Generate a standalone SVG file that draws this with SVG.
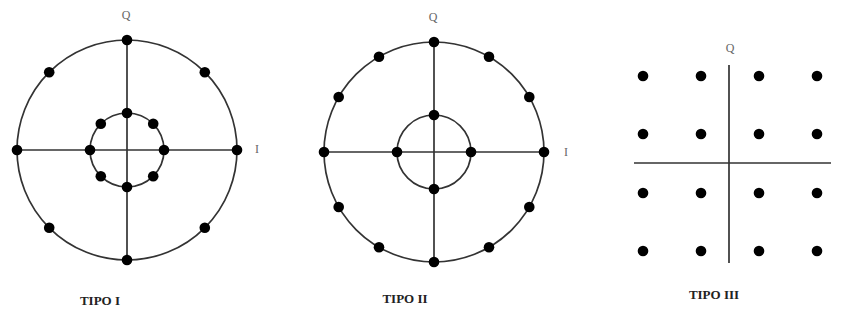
<svg xmlns="http://www.w3.org/2000/svg" xmlns:xlink="http://www.w3.org/1999/xlink" width="845" height="323" viewBox="0 0 845 323">
<style>
.ln{stroke:#333;stroke-width:1.7;fill:none}
.ax{font-family:"Liberation Serif",serif;font-size:12px;fill:#666}
.tt{font-family:"Liberation Serif",serif;font-size:13px;font-weight:bold;fill:#222}
.dot{fill:#000}
</style>
<defs><circle id="d" r="5.3" class="dot"/></defs>
<rect width="845" height="323" fill="#fff"/>
<g id="tipo1">
<circle class="ln" cx="127" cy="150" r="110"/>
<circle class="ln" cx="127" cy="150" r="37"/>
<line class="ln" x1="17" y1="150" x2="237" y2="150"/>
<line class="ln" x1="127" y1="40" x2="127" y2="260"/>
<use xlink:href="#d" x="237" y="150"/><use xlink:href="#d" x="204.8" y="72.2"/><use xlink:href="#d" x="127" y="40"/><use xlink:href="#d" x="49.2" y="72.2"/>
<use xlink:href="#d" x="17" y="150"/><use xlink:href="#d" x="49.2" y="227.8"/><use xlink:href="#d" x="127" y="260"/><use xlink:href="#d" x="204.8" y="227.8"/>
<use xlink:href="#d" x="164" y="150"/><use xlink:href="#d" x="153.2" y="123.8"/><use xlink:href="#d" x="127" y="113"/><use xlink:href="#d" x="100.8" y="123.8"/>
<use xlink:href="#d" x="90" y="150"/><use xlink:href="#d" x="100.8" y="176.2"/><use xlink:href="#d" x="127" y="187"/><use xlink:href="#d" x="153.2" y="176.2"/>
<text class="ax" x="126" y="19" text-anchor="middle">Q</text>
<text class="ax" x="257" y="153" text-anchor="middle">I</text>
<text class="tt" x="100" y="305" text-anchor="middle">TIPO I</text>
</g>
<g id="tipo2">
<circle class="ln" cx="434" cy="152" r="110"/>
<circle class="ln" cx="434" cy="152" r="37"/>
<line class="ln" x1="324" y1="152" x2="544" y2="152"/>
<line class="ln" x1="434" y1="42" x2="434" y2="262"/>
<use xlink:href="#d" x="544" y="152"/><use xlink:href="#d" x="529.3" y="97"/><use xlink:href="#d" x="489" y="56.7"/><use xlink:href="#d" x="434" y="42"/>
<use xlink:href="#d" x="379" y="56.7"/><use xlink:href="#d" x="338.7" y="97"/><use xlink:href="#d" x="324" y="152"/><use xlink:href="#d" x="338.7" y="207"/>
<use xlink:href="#d" x="379" y="247.3"/><use xlink:href="#d" x="434" y="262"/><use xlink:href="#d" x="489" y="247.3"/><use xlink:href="#d" x="529.3" y="207"/>
<use xlink:href="#d" x="471" y="152"/><use xlink:href="#d" x="434" y="115"/><use xlink:href="#d" x="397" y="152"/><use xlink:href="#d" x="434" y="189"/>
<text class="ax" x="433" y="21" text-anchor="middle">Q</text>
<text class="ax" x="566" y="156" text-anchor="middle">I</text>
<text class="tt" x="405" y="303" text-anchor="middle">TIPO II</text>
</g>
<g id="tipo3">
<line class="ln" x1="729" y1="65" x2="729" y2="263"/>
<line class="ln" x1="634" y1="163" x2="831" y2="163"/>
<use xlink:href="#d" x="643" y="76"/><use xlink:href="#d" x="701" y="76"/><use xlink:href="#d" x="759" y="76"/><use xlink:href="#d" x="817" y="76"/>
<use xlink:href="#d" x="643" y="134"/><use xlink:href="#d" x="701" y="134"/><use xlink:href="#d" x="759" y="134"/><use xlink:href="#d" x="817" y="134"/>
<use xlink:href="#d" x="643" y="193"/><use xlink:href="#d" x="701" y="193"/><use xlink:href="#d" x="759" y="193"/><use xlink:href="#d" x="817" y="193"/>
<use xlink:href="#d" x="643" y="251"/><use xlink:href="#d" x="701" y="251"/><use xlink:href="#d" x="759" y="251"/><use xlink:href="#d" x="817" y="251"/>
<text class="ax" x="730" y="52" text-anchor="middle">Q</text>
<text class="tt" x="714" y="299" text-anchor="middle">TIPO III</text>
</g>
</svg>
